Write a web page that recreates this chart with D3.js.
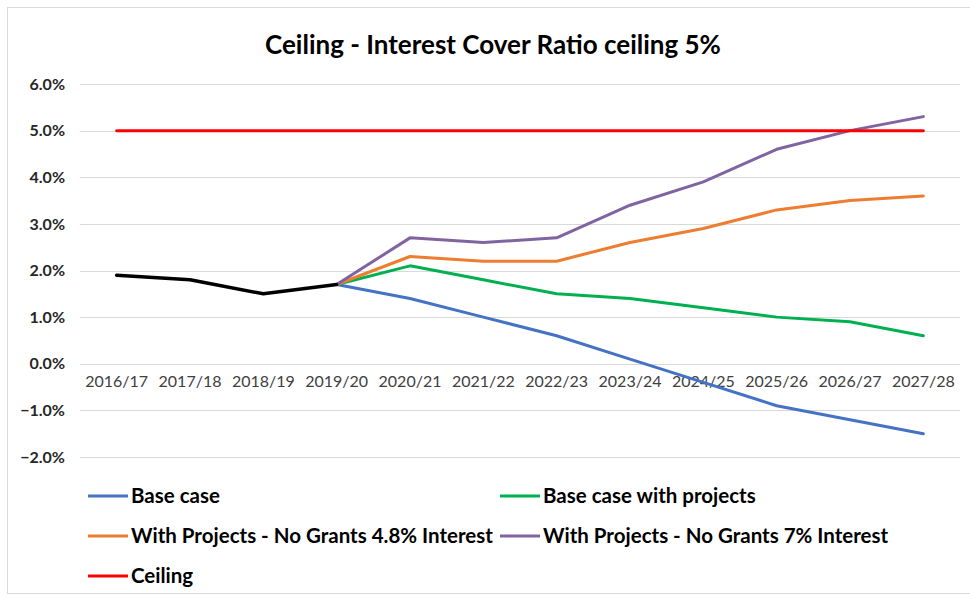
<!DOCTYPE html>
<html>
<head>
<meta charset="utf-8">
<script src="https://cdn.jsdelivr.net/npm/d3@7"></script>
<style>
  html, body { margin: 0; padding: 0; background: #fff; }
  svg { display: block; font-family: Lato, "Open Sans", sans-serif; }
</style>
</head>
<body>
<div id="chart"></div>
<script>
const width = 970, height = 599;

// categories and series (values in %)
const years = ["2016/17", "2017/18", "2018/19", "2019/20", "2020/21", "2021/22",
               "2022/23", "2023/24", "2024/25", "2025/26", "2026/27", "2027/28"];
const history = [1.9, 1.8, 1.5, 1.7];                // 2016/17 - 2019/20 (black)
const forecastYears = years.slice(3);                 // 2019/20 onwards
const baseCase = [1.7, 1.4, 1.0, 0.6, 0.1, -0.4, -0.9, -1.2, -1.5];
const baseWithProjects = [1.7, 2.1, 1.8, 1.5, 1.4, 1.2, 1.0, 0.9, 0.6];
const noGrants48 = [1.7, 2.3, 2.2, 2.2, 2.6, 2.9, 3.3, 3.5, 3.6];
const noGrants7 = [1.7, 2.7, 2.6, 2.7, 3.4, 3.9, 4.6, 5.0, 5.3];
const ceiling = years.map(() => 5.0);
const yTicks = [-2, -1, 0, 1, 2, 3, 4, 5, 6];

const series = [
    { name: "Base case", color: "#4472C4", cats: forecastYears, values: baseCase },
    { name: "Base case with projects", color: "#00B050", cats: forecastYears, values: baseWithProjects },
    { name: "With Projects - No Grants 4.8% Interest", color: "#ED7D31", cats: forecastYears, values: noGrants48 },
    { name: "With Projects - No Grants 7% Interest", color: "#8064A2", cats: forecastYears, values: noGrants7 },
    { name: "Ceiling", color: "#FF0000", cats: years, values: ceiling }
];

const svg = d3.select('#chart').append('svg')
    .attr('width', width)
    .attr('height', height);

// outer chart frame
svg.append('rect')
    .attr('x', 7.5).attr('y', 7.5)
    .attr('width', width).attr('height', 586)
    .attr('fill', 'none')
    .attr('stroke', '#d9d9d9')
    .attr('stroke-width', 1);

svg.append('text')
    .attr('x', 493).attr('y', 54)
    .attr('text-anchor', 'middle')
    .style('font-size', '26px')
    .style('font-weight', 'bold')
    .attr('fill', '#000')
    .text('Ceiling - Interest Cover Ratio ceiling 5%');

const x = d3.scaleBand().domain(years).range([80, 960]);
const y = d3.scaleLinear().domain([-2, 6]).range([457, 84]);
const cx = d => x(d) + x.bandwidth() / 2;

// gridlines
svg.append('g')
    .selectAll('line')
    .data(yTicks)
    .enter().append('line')
    .attr('x1', 80).attr('x2', 960)
    .attr('y1', d => Math.round(y(d)) + 0.5)
    .attr('y2', d => Math.round(y(d)) + 0.5)
    .attr('stroke', '#d9d9d9')
    .attr('stroke-width', 1);

// y axis labels
const yAxis = d3.axisLeft(y).tickValues(yTicks).tickSize(0).tickPadding(0)
    .tickFormat(d => d3.format('.1f')(d) + '%');
svg.append('g')
    .attr('transform', 'translate(65,0)')
    .call(yAxis)
    .call(g => g.select('.domain').remove())
    .call(g => g.selectAll('text')
        .style('font-size', '16px')
        .style('font-weight', 'bold')
        .style('font-family', 'Lato, "Open Sans", sans-serif')
        .attr('fill', '#262626'));

// x axis labels (sit just under the 0% line)
const xAxis = d3.axisBottom(x).tickSize(0).tickPadding(0);
svg.append('g')
    .attr('transform', `translate(0,${y(0) + 12})`)
    .call(xAxis)
    .call(g => g.select('.domain').remove())
    .call(g => g.selectAll('text')
        .style('font-size', '16px')
        .style('font-family', 'Lato, "Open Sans", sans-serif')
        .attr('fill', '#404040'));

const line = d3.line().x(d => cx(d[0])).y(d => y(d[1]));

series.forEach(s => {
    svg.append('path')
        .datum(s.cats.map((c, i) => [c, s.values[i]]))
        .attr('d', line)
        .attr('fill', 'none')
        .attr('stroke', s.color)
        .attr('stroke-width', 3)
        .attr('stroke-linejoin', 'round')
        .attr('stroke-linecap', 'round');
});

// historical actuals in black, on top
svg.append('path')
    .datum(history.map((v, i) => [years[i], v]))
    .attr('d', line)
    .attr('fill', 'none')
    .attr('stroke', '#000')
    .attr('stroke-width', 3.5)
    .attr('stroke-linejoin', 'round')
    .attr('stroke-linecap', 'round');

// legend
const legendPos = [[88, 496], [500, 496], [88, 536], [500, 536], [88, 576]];
const legend = svg.append('g')
    .selectAll('g')
    .data(series)
    .enter().append('g')
    .attr('transform', (d, i) => `translate(${legendPos[i][0]},${legendPos[i][1]})`);

legend.append('line')
    .attr('x1', 0).attr('x2', 40)
    .attr('stroke', d => d.color)
    .attr('stroke-width', 3);

legend.append('text')
    .attr('x', 43)
    .attr('dy', '0.35em')
    .style('font-size', '20.5px')
    .style('font-weight', 'bold')
    .attr('fill', '#000')
    .text(d => d.name);
</script>
</body>
</html>
